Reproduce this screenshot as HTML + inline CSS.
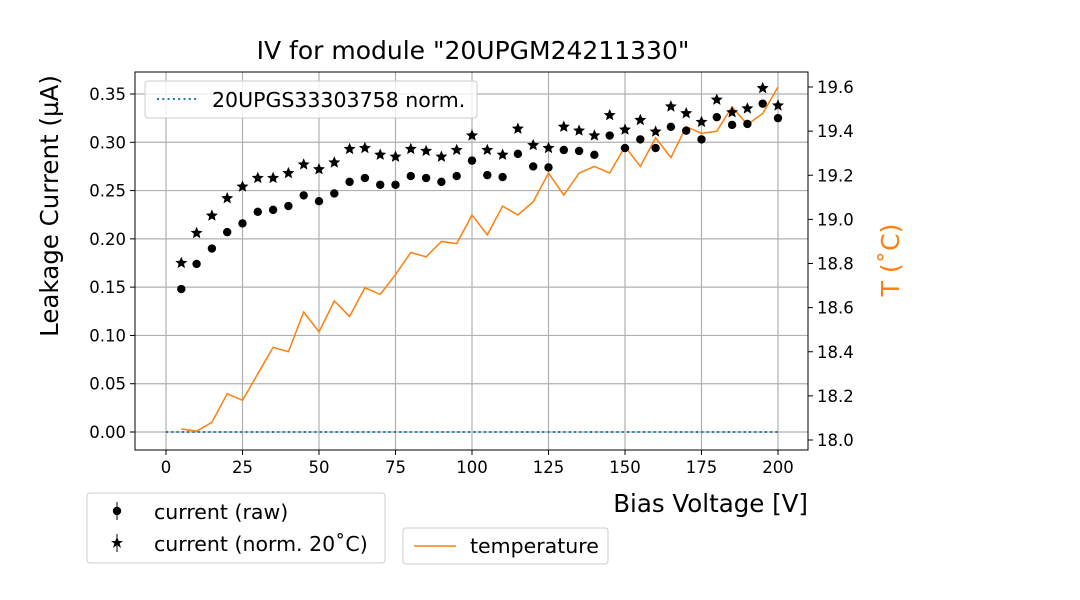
<!DOCTYPE html>
<html><head><meta charset="utf-8"><style>
body{margin:0;background:#fff;}
svg{display:block;font-family:"DejaVu Sans","Liberation Sans",sans-serif;}
</style></head><body>
<svg id="c" width="1080" height="600"></svg>
<script>
const volts=[5,10,15,20,25,30,35,40,45,50,55,60,65,70,75,80,85,90,95,100,105,110,115,120,125,130,135,140,145,150,155,160,165,170,175,180,185,190,195,200];
const rawCurrent=[0.148,0.174,0.190,0.207,0.216,0.228,0.230,0.234,0.245,0.239,0.247,0.259,0.263,0.256,0.256,0.265,0.263,0.259,0.265,0.281,0.266,0.264,0.288,0.275,0.274,0.292,0.291,0.287,0.307,0.294,0.303,0.294,0.316,0.312,0.303,0.326,0.318,0.319,0.340,0.325];
const normCurrent=[0.175,0.206,0.224,0.242,0.254,0.263,0.263,0.268,0.277,0.272,0.279,0.293,0.294,0.287,0.285,0.293,0.291,0.285,0.292,0.307,0.292,0.287,0.314,0.297,0.294,0.316,0.312,0.307,0.328,0.313,0.323,0.311,0.337,0.330,0.321,0.344,0.331,0.335,0.356,0.338];
const temperature=[18.05,18.04,18.08,18.21,18.18,18.30,18.42,18.40,18.58,18.49,18.63,18.56,18.69,18.66,18.75,18.85,18.83,18.90,18.89,19.02,18.93,19.06,19.02,19.08,19.21,19.11,19.21,19.24,19.21,19.33,19.24,19.37,19.28,19.42,19.39,19.40,19.51,19.43,19.48,19.60];
const refVolts=[0,200];
const refCurrent=[0,0];
const xTicks=[0,25,50,75,100,125,150,175,200];
const yTicks=[0,0.05,0.10,0.15,0.20,0.25,0.30,0.35];
const tTicks=[18.0,18.2,18.4,18.6,18.8,19.0,19.2,19.4,19.6];

const L=135,R=808,T=72,B=450;
const X=v=>166+(v-0)*(778-166)/200;
const Y=v=>432-v*(432-94)/0.35;
const YT=v=>440-(v-18)*(440-87)/1.6;
const svg=document.getElementById('c');
const NS='http://www.w3.org/2000/svg';
function mk(tag,attrs,parent){const e=document.createElementNS(NS,tag);for(const k in attrs)e.setAttribute(k,attrs[k]);(parent||svg).appendChild(e);return e;}
function txt(s,attrs){const e=mk('text',attrs);e.textContent=s;return e;}

xTicks.forEach(v=>{const g=mk('line',{x1:X(v),x2:X(v),y1:T,y2:B,stroke:'#b0b0b0','stroke-width':1.2});

});
yTicks.forEach(v=>{const g=mk('line',{x1:L,x2:R,y1:Y(v),y2:Y(v),stroke:'#b0b0b0','stroke-width':1.2});

});

const ref=mk('line',{x1:X(refVolts[0]),x2:X(refVolts[1]),y1:Y(refCurrent[0]),y2:Y(refCurrent[1]),stroke:'#1f77b4','stroke-width':2,'stroke-dasharray':'2,3.3'});



const tl=mk('polyline',{points:volts.map((v,i)=>X(v)+','+YT(temperature[i])).join(' '),fill:'none',stroke:'#ff7f0e','stroke-width':1.5});



function star(cx,cy,r){let p=[];for(let i=0;i<10;i++){const a=-Math.PI/2+i*Math.PI/5;const rr=i%2?r*0.45:r;p.push((cx+rr*Math.cos(a)).toFixed(1)+','+(cy+rr*Math.sin(a)).toFixed(1));}return p.join(' ');}
volts.forEach((v,i)=>{
 const c=mk('circle',{cx:X(v),cy:Y(rawCurrent[i]),r:4.2,fill:'#000'});
 
 
 const s=mk('polygon',{points:star(X(v),Y(normCurrent[i]),6.3),fill:'#000'});
 
 
});

const fr=mk('rect',{x:L,y:T,width:R-L,height:B-T,fill:'none',stroke:'#000','stroke-width':1});



xTicks.forEach(v=>{mk('line',{x1:X(v),x2:X(v),y1:B,y2:B+5,stroke:'#000'});
const t=txt(String(v),{x:X(v),y:B+23,'text-anchor':'middle','font-size':16.5});

});
yTicks.forEach(v=>{mk('line',{x1:L-5,x2:L,y1:Y(v),y2:Y(v),stroke:'#000'});
const t=txt(v.toFixed(2),{x:L-9,y:Y(v)+6,'text-anchor':'end','font-size':16.5});

});
tTicks.forEach(v=>{mk('line',{x1:R,x2:R+5,y1:YT(v),y2:YT(v),stroke:'#000'});
const t=txt(v.toFixed(1),{x:R+9,y:YT(v)+6,'font-size':16.5});

});
</script>
<div style="position:absolute;left:0;top:0;width:1080px;height:600px;pointer-events:none">
<svg width="1080" height="600" style="font-family:'DejaVu Sans','Liberation Sans',sans-serif">
<text x="473" y="59" text-anchor="middle" font-size="25">IV for module "20UPGM24211330"</text>
<text transform="translate(58,206) rotate(-90)" text-anchor="middle" font-size="24.5">Leakage Current (µA)</text>
<text x="808" y="512" text-anchor="end" font-size="24.5">Bias Voltage [V]</text>
<text transform="translate(899,260) rotate(-90)" text-anchor="middle" font-size="25" fill="#ff7f0e">T (˚C)</text>
<g>
<rect x="145" y="81" width="332" height="37" rx="3" fill="#fff" fill-opacity="0.8" stroke="#ccc"/>
<line x1="157" x2="199" y1="99" y2="99" stroke="#1f77b4" stroke-width="2" stroke-dasharray="2,3.3"/>
<text x="212" y="107" font-size="20.5">20UPGS33303758 norm.</text>
</g>
<g>
<rect x="87" y="493" width="298" height="70" rx="3" fill="#fff" stroke="#ccc"/>
<line x1="117" x2="117" y1="502" y2="520" stroke="#000"/>
<circle cx="117" cy="511" r="4.2"/>
<text x="154" y="519" font-size="20.5">current (raw)</text>
<line x1="117" x2="117" y1="534" y2="552" stroke="#000"/>
<polygon points="117,537 118.8,541 123,541 119.6,543.5 121,548 117,545 113,548 114.4,543.5 111,541 115.2,541"/>
<text x="154" y="551" font-size="20.5">current (norm. 20˚C)</text>
</g>
<g>
<rect x="403" y="528" width="205" height="36" rx="3" fill="#fff" stroke="#ccc"/>
<line x1="414" x2="456" y1="546" y2="546" stroke="#ff7f0e" stroke-width="1.5"/>
<text x="470" y="553" font-size="20.5">temperature</text>
</g>
</svg></div>
</body></html>
